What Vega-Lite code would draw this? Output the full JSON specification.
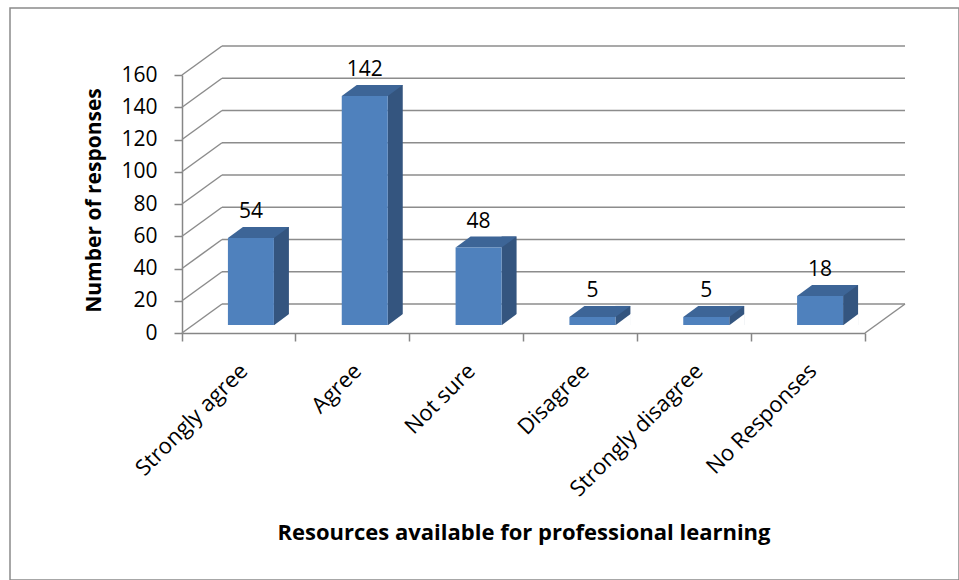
{
  "$schema": "https://vega.github.io/schema/vega-lite/v6.json",
  "width": 949,
  "height": 572,
  "autosize": {"type": "none"},
  "padding": {"left": 10, "top": 8, "right": 0, "bottom": 0},
  "background": "white",
  "config": {"view": {"stroke": "#8a8a8a", "strokeWidth": 1.5}, "font": "Open Sans"},
  "datasets": {
    "resp": [
      {"cat": "Strongly agree", "value": 54},
      {"cat": "Agree", "value": 142},
      {"cat": "Not sure", "value": 48},
      {"cat": "Disagree", "value": 5},
      {"cat": "Strongly disagree", "value": 5},
      {"cat": "No Responses", "value": 18}
    ],
    "grid": [
      {"value": 0}, {"value": 20}, {"value": 40}, {"value": 60}, {"value": 80},
      {"value": 100}, {"value": 120}, {"value": 140}, {"value": 160}
    ],
    "floor": [{"value": 0}]
  },
  "encoding": {
    "y": {
      "field": "value", "type": "quantitative",
      "scale": {"domain": [0, 160], "range": [325, 67], "nice": false},
      "axis": {
        "orient": "left", "offset": -172, "values": [0, 20, 40, 60, 80, 100, 120, 140, 160], "grid": false,
        "domainColor": "#868686", "domainWidth": 1.5, "tickColor": "#868686", "tickWidth": 1.5, "tickSize": 8,
        "labelFontSize": 21, "labelColor": "#000", "labelFont": "Open Sans", "labelPadding": 17,
        "title": "Number of responses", "titleFont": "Open Sans", "titleFontSize": 21, "titleFontWeight": "bold",
        "titleColor": "#000", "titleAngle": -90, "titleX": -88, "titleY": 192, "titleAlign": "center", "titleBaseline": "middle"
      }
    }
  },
  "resolve": {"scale": {"x": "independent"}},
  "layer": [
    {
      "data": {"name": "grid"},
      "mark": {"type": "rule", "color": "#8c8c8c", "strokeWidth": 1.5, "xOffset": 40, "x2Offset": 40, "yOffset": -29, "y2Offset": -29},
      "encoding": {
        "x": {"datum": 0, "type": "quantitative", "scale": {"domain": [0, 1], "range": [172, 855]}, "axis": null},
        "x2": {"datum": 1},
        "y2": {"field": "value"}
      }
    },
    {
      "data": {"name": "grid"},
      "mark": {"type": "rule", "color": "#8c8c8c", "strokeWidth": 1.5, "x2Offset": 40, "y2Offset": -29},
      "encoding": {
        "x": {"datum": 0, "type": "quantitative", "scale": {"domain": [0, 1], "range": [172, 855]}, "axis": null},
        "x2": {"datum": 0},
        "y2": {"field": "value"}
      }
    },
    {
      "data": {"name": "floor"},
      "mark": {"type": "rule", "color": "#8c8c8c", "strokeWidth": 1.5, "x2Offset": 40, "y2Offset": -29},
      "encoding": {
        "x": {"datum": 1, "type": "quantitative", "scale": {"domain": [0, 1], "range": [172, 855]}, "axis": null},
        "x2": {"datum": 1},
        "y2": {"field": "value"}
      }
    },
    {
      "data": {"name": "resp"},
      "mark": {"type": "bar", "width": 15, "xOffset": 42.5, "yOffset": -19, "y2Offset": -8, "color": "#34557f"},
      "encoding": {
        "x": {"field": "cat", "type": "nominal", "sort": null, "scale": {"range": [172, 855], "paddingInner": 0, "paddingOuter": 0}, "axis": null},
        "y2": {"datum": 0}
      }
    },
    {
      "data": {"name": "resp"},
      "mark": {"type": "point", "shape": "M0.695,-0.15L1.01,-0.385L1.01,-0.15Z", "size": 10000, "filled": true, "color": "white", "opacity": 1, "strokeWidth": 0},
      "encoding": {
        "x": {"field": "cat", "type": "nominal", "sort": null, "scale": {"range": [172, 855], "paddingInner": 0, "paddingOuter": 0}, "axis": null},
        "y": {"datum": 0, "type": "quantitative", "scale": {"domain": [0, 160], "range": [325, 67], "nice": false}}
      }
    },
    {
      "data": {"name": "resp"},
      "mark": {"type": "point", "shape": "M-0.22,-0.16L0.7,-0.16L1,-0.38L0.08,-0.38Z", "size": 10000, "filled": true, "color": "#3d6597", "opacity": 1, "strokeWidth": 0},
      "encoding": {
        "x": {"field": "cat", "type": "nominal", "sort": null, "scale": {"range": [172, 855], "paddingInner": 0, "paddingOuter": 0}, "axis": null}
      }
    },
    {
      "data": {"name": "resp"},
      "mark": {"type": "bar", "width": 46, "xOffset": 12, "yOffset": -8, "y2Offset": -8, "color": "#4f81bd"},
      "encoding": {
        "x": {
          "field": "cat", "type": "nominal", "sort": null,
          "scale": {"range": [172, 855], "paddingInner": 0, "paddingOuter": 0},
          "axis": {
            "orient": "bottom", "offset": -247, "bandPosition": 1, "tickExtra": true,
            "domainColor": "#868686", "domainWidth": 1.5, "tickColor": "#868686", "tickWidth": 1.5, "tickSize": 8,
            "labelAngle": -45, "labelAlign": "right", "labelBaseline": "middle", "labelFontSize": 22, "labelColor": "#000",
            "labelFont": "Open Sans", "labelPadding": 26, "labelOffset": 5, "labelOverlap": false,
            "title": "Resources available for professional learning", "titleFont": "Open Sans", "titleFontSize": 22,
            "titleFontWeight": "bold", "titleColor": "#000", "titleY": 199, "titleBaseline": "middle"
          }
        },
        "y2": {"datum": 0}
      }
    },
    {
      "data": {"name": "resp"},
      "mark": {"type": "text", "dx": 12, "dy": -28, "baseline": "alphabetic", "align": "center", "fontSize": 21, "font": "Open Sans", "color": "#000"},
      "encoding": {
        "x": {"field": "cat", "type": "nominal", "sort": null, "scale": {"range": [172, 855], "paddingInner": 0, "paddingOuter": 0}, "axis": null},
        "text": {"field": "value", "type": "quantitative"}
      }
    }
  ]
}
